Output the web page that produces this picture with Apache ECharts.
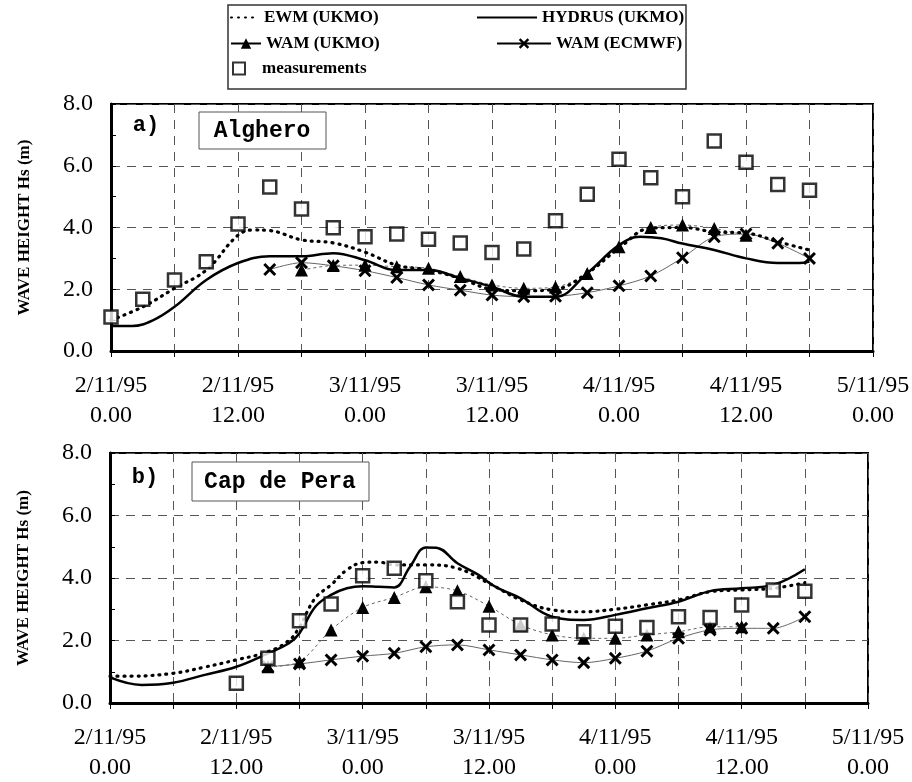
<!DOCTYPE html>
<html><head><meta charset="utf-8">
<script src="https://cdn.jsdelivr.net/npm/echarts@6/dist/echarts.min.js"></script>
<style>html,body{margin:0;padding:0;background:#fff}#c{width:912px;height:782px}</style>
</head><body><div id="c"></div>
<script>
// ---- tick labels ----
const xTickLabels = ['2/11/95\n0.00','2/11/95\n12.00','3/11/95\n0.00','3/11/95\n12.00','4/11/95\n0.00','4/11/95\n12.00','5/11/95\n0.00'];
const yTickLabels = ['0.0','2.0','4.0','6.0','8.0'];

// ---- a) Alghero ----
const measA_h = [0,3,6,9,12,15,18,21,24,27,30,33,36,39,42,45,48,51,54,57,60,63,66];
const measA_v = [1.10,1.68,2.30,2.89,4.11,5.31,4.60,3.99,3.70,3.79,3.62,3.50,3.19,3.30,4.22,5.08,6.21,5.61,5.00,6.80,6.11,5.39,5.21];
const ewmA_h = [0,3,6,9,12,13.5,15,18,21,24,27,30,33,36,39,42,45,48,51,54,57,60,63,66];
const ewmA_v = [1.0,1.43,2.03,2.62,3.75,3.92,3.9,3.6,3.5,3.2,2.78,2.62,2.35,2.0,1.95,2.0,2.52,3.33,3.98,4.0,3.86,3.82,3.54,3.27];
const hydA_h = [0,2,4,6,9,12,15,18,21,24,27,30,33,36,39,42,45,48,50,52,54,57,60,63,65,66];
const hydA_v = [0.81,0.81,1.0,1.43,2.3,2.85,3.07,3.07,3.17,2.94,2.62,2.62,2.36,2.08,1.76,1.76,2.52,3.43,3.7,3.65,3.48,3.27,3.0,2.85,2.85,2.9];
const wamUA_h = [18,21,24,27,30,33,36,39,42,45,48,51,54,57,60];
const wamUA_v = [2.62,2.77,2.78,2.73,2.68,2.41,2.14,2.03,2.07,2.51,3.38,4.0,4.08,3.97,3.75];
const wamEA_h = [15,18,21,24,27,30,33,36,39,42,45,48,51,54,57,60,63,66];
const wamEA_v = [2.64,2.86,2.76,2.6,2.38,2.14,1.97,1.81,1.76,1.77,1.89,2.11,2.43,3.02,3.7,3.79,3.49,3.0];

// ---- b) Cap de Pera ----
const measB_h = [12,15,18,21,24,27,30,33,36,39,42,45,48,51,54,57,60,63,66];
const measB_v = [0.63,1.43,2.63,3.17,4.07,4.31,3.91,3.24,2.5,2.5,2.53,2.28,2.46,2.42,2.76,2.74,3.14,3.62,3.58];
const ewmB_h = [0,2,6,9,12,15,17,18,19.5,21,22.5,24,25.5,27,30,33,36,39,42,45,48,51,54,57,60,63,66];
const ewmB_v = [0.86,0.86,0.95,1.15,1.38,1.64,2.0,2.44,3.36,3.78,4.26,4.49,4.51,4.42,4.42,4.31,3.83,3.3,2.98,2.92,3.0,3.14,3.3,3.56,3.62,3.67,3.85];
const hydB_h = [0,3,6,9,12,15,17,18,19.5,21,22.5,24,25.5,27,28.5,30,31,33,35,36,37,39,42,45,48,51,54,57,60,63,66];
const hydB_v = [0.82,0.58,0.65,0.9,1.16,1.59,1.91,2.23,3.08,3.46,3.67,3.74,3.72,3.7,4.36,4.98,4.97,4.47,4.1,3.85,3.65,3.35,2.76,2.66,2.82,3.03,3.24,3.58,3.67,3.78,4.28];
const wamUB_h = [15,18,21,24,27,30,33,36,39,42,45,48,51,54,57,60];
const wamUB_v = [1.16,1.32,2.34,3.06,3.38,3.72,3.59,3.1,2.5,2.18,2.07,2.07,2.18,2.28,2.44,2.44];
const wamEB_h = [15,18,21,24,27,30,33,36,39,42,45,48,51,54,57,60,63,66];
const wamEB_v = [1.16,1.25,1.38,1.5,1.59,1.8,1.86,1.7,1.54,1.38,1.29,1.43,1.66,2.07,2.34,2.39,2.39,2.76];

const pairs = (h, v) => h.map((x, i) => [x, v[i]]);
const SERIF = 'Liberation Serif';
const XSYM = 'path://M0,1.6L1.6,0L5,3.4L8.4,0L10,1.6L6.6,5L10,8.4L8.4,10L5,6.6L1.6,10L0,8.4L3.4,5Z';

function xAxisCfg(gi) {
  return {
    gridIndex: gi, type: 'value', min: 0, max: 72, interval: 6,
    axisLine: { show: true, onZero: false, lineStyle: { color: '#000', width: 3 } },
    axisTick: { show: true, length: 6, lineStyle: { color: '#000', width: 1 } },
    axisLabel: {
      formatter: v => (v % 12 === 0 ? xTickLabels[v / 12] : ''),
      fontFamily: SERIF, fontSize: 24, lineHeight: 30, color: '#000', margin: 20,
      showMinLabel: true, showMaxLabel: true
    },
    splitLine: { show: true, lineStyle: { color: '#555', type: [9, 7], width: 1 } }
  };
}
function yAxisCfg(gi) {
  return {
    gridIndex: gi, type: 'value', min: 0, max: 8, interval: 2,
    axisLine: { show: true, onZero: false, lineStyle: { color: '#000', width: 3 } },
    axisTick: { show: true, inside: true, length: 5, lineStyle: { color: '#000' } },
    minorTick: { show: true, splitNumber: 2, length: 5, lineStyle: { color: '#000' } },
    axisLabel: { formatter: v => yTickLabels[v / 2], fontFamily: SERIF, fontSize: 24, color: '#000', margin: 18 },
    splitLine: { show: true, lineStyle: { color: '#555', type: [9, 7], width: 1 } },
    name: 'WAVE HEIGHT Hs (m)', nameLocation: 'middle', nameGap: 78,
    nameTextStyle: { fontFamily: SERIF, fontWeight: 'bold', fontSize: 17, color: '#000' }
  };
}
function seriesFor(gi, d) {
  return [
    { name: 'WAM (UKMO)', type: 'line', xAxisIndex: gi, yAxisIndex: gi, data: d.wu, smooth: 0.3,
      symbol: 'triangle', symbolSize: 13, itemStyle: { color: '#000' },
      lineStyle: { color: '#666', width: 1, type: [3, 3] }, z: 3 },
    { name: 'WAM (ECMWF)', type: 'line', xAxisIndex: gi, yAxisIndex: gi, data: d.we, smooth: 0.3,
      symbol: XSYM, symbolSize: 13, itemStyle: { color: '#000' },
      lineStyle: { color: '#666', width: 1 }, z: 3 },
    { name: 'EWM (UKMO)', type: 'line', xAxisIndex: gi, yAxisIndex: gi, data: d.ewm, smooth: 0.4,
      symbol: 'none', lineStyle: { color: '#000', width: 3.2, type: [1, 6], cap: 'round' }, itemStyle: { color: '#000' }, z: 4 },
    { name: 'HYDRUS (UKMO)', type: 'line', xAxisIndex: gi, yAxisIndex: gi, data: d.hyd, smooth: 0.4,
      symbol: 'none', lineStyle: { color: '#000', width: 2.5 }, itemStyle: { color: '#000' }, z: 4 },
    { name: 'measurements', type: 'scatter', xAxisIndex: gi, yAxisIndex: gi, data: d.meas,
      symbol: 'rect', symbolSize: 13, itemStyle: { color: '#fff', borderColor: '#000', borderWidth: 2.5 }, z: 5 }
  ];
}

const legTxt = { fontFamily: SERIF, fontWeight: 'bold', fontSize: 17, color: '#000' };
function leg(name, left, top, w, extra) {
  return Object.assign({ data: [name], left: left, top: top, itemWidth: w, itemHeight: 13, selectedMode: false,
           textStyle: legTxt, padding: 0, itemGap: 0 }, extra || {});
}
const hideSym = { itemStyle: { opacity: 0 } };
const solidLeg = { lineStyle: { type: 'solid', color: '#000', width: 2 } };

const option = {
  animation: false,
  backgroundColor: '#fff',
  grid: [
    { left: 111, top: 104, width: 762, height: 247, show: true, borderColor: '#000', borderWidth: 2, outerBoundsMode: 'none' },
    { left: 110, top: 453, width: 758, height: 250, show: true, borderColor: '#000', borderWidth: 2, outerBoundsMode: 'none' }
  ],
  xAxis: [xAxisCfg(0), xAxisCfg(1)],
  yAxis: [yAxisCfg(0), yAxisCfg(1)],
  legend: [
    leg('EWM (UKMO)', 230, 9, 28, hideSym),
    leg('HYDRUS (UKMO)', 476, 9, 60, hideSym),
    leg('WAM (UKMO)', 230, 35, 30, solidLeg),
    leg('WAM (ECMWF)', 496, 35, 54, solidLeg),
    leg('measurements', 232, 60, 12, { itemHeight: 12, textStyle: Object.assign({}, legTxt, { padding: [0, 0, 0, 12] }) })
  ],
  graphic: [
    { type: 'rect', shape: { x: 228, y: 5, width: 458, height: 84 }, style: { fill: 'none', stroke: '#333', lineWidth: 1.5 }, z: 0, silent: true },
    { type: 'text', x: 146, y: 125, style: { text: 'a)', font: 'bold 22px "Liberation Mono"', fill: '#000', textAlign: 'center', textVerticalAlign: 'middle' }, z: 10 },
    { type: 'rect', shape: { x: 199, y: 112, width: 127, height: 37 }, style: { fill: '#fff', stroke: '#555', lineWidth: 1 }, z: 10 },
    { type: 'text', x: 262, y: 131, style: { text: 'Alghero', font: 'bold 23px "Liberation Mono"', fill: '#000', textAlign: 'center', textVerticalAlign: 'middle' }, z: 11 },
    { type: 'text', x: 145, y: 477, style: { text: 'b)', font: 'bold 22px "Liberation Mono"', fill: '#000', textAlign: 'center', textVerticalAlign: 'middle' }, z: 10 },
    { type: 'rect', shape: { x: 192, y: 462, width: 177, height: 39 }, style: { fill: '#fff', stroke: '#555', lineWidth: 1 }, z: 10 },
    { type: 'text', x: 280, y: 482, style: { text: 'Cap de Pera', font: 'bold 23px "Liberation Mono"', fill: '#000', textAlign: 'center', textVerticalAlign: 'middle' }, z: 11 }
  ],
  series: [].concat(
    seriesFor(0, { meas: pairs(measA_h, measA_v), ewm: pairs(ewmA_h, ewmA_v), hyd: pairs(hydA_h, hydA_v), wu: pairs(wamUA_h, wamUA_v), we: pairs(wamEA_h, wamEA_v) }),
    seriesFor(1, { meas: pairs(measB_h, measB_v), ewm: pairs(ewmB_h, ewmB_v), hyd: pairs(hydB_h, hydB_v), wu: pairs(wamUB_h, wamUB_v), we: pairs(wamEB_h, wamEB_v) })
  )
};
const chart = echarts.init(document.getElementById('c'), null, { renderer: 'canvas' });
chart.setOption(option);
</script></body></html>
